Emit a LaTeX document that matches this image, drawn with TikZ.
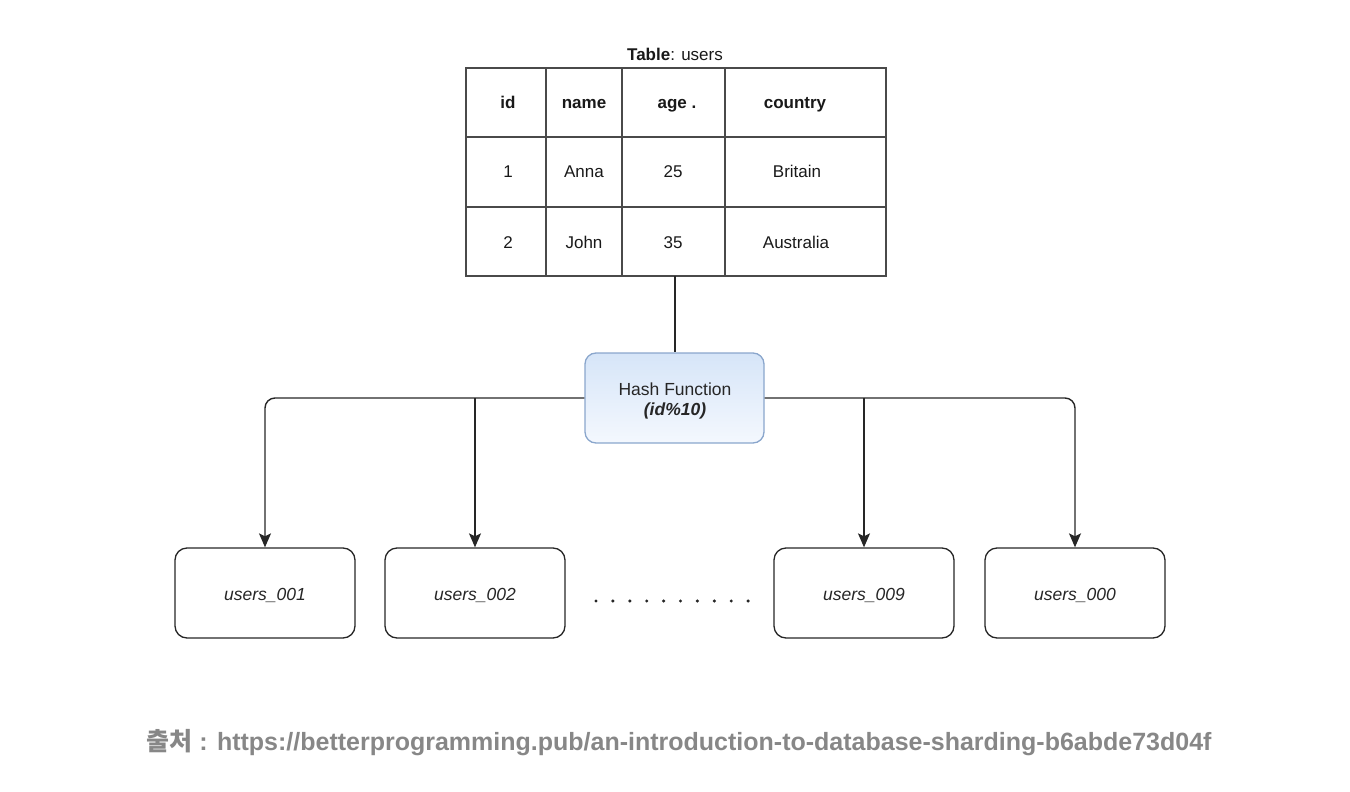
\documentclass[tikz,border=0pt]{standalone}
\usepackage{fontspec}
\setmainfont{Liberation Sans}
\newfontfamily\kr{Noto Sans CJK KR}
\usetikzlibrary{arrows.meta}
\definecolor{tline}{HTML}{4A4A4A}
\definecolor{hashtop}{HTML}{D6E5F8}
\definecolor{hashbot}{HTML}{F4F8FE}
\definecolor{hashborder}{HTML}{8AA6CC}
\definecolor{srcgray}{HTML}{878787}
\tikzset{
  cell/.style={font=\fontsize{17}{20}\selectfont, text=black!90, inner sep=0pt, anchor=base},
  hcell/.style={cell, font=\fontsize{17}{20}\selectfont\bfseries},
  shard/.style={draw=black!85, line width=1.3pt, rounded corners=12pt, minimum width=180pt, minimum height=90pt},
  shardtxt/.style={font=\fontsize{17.5}{20}\selectfont\itshape, text=black!85, inner sep=0pt, anchor=base},
  hashbox/.style={draw=hashborder, line width=1.3pt, rounded corners=11pt, minimum width=179pt, minimum height=90pt, top color=hashtop, bottom color=hashbot},
  hashtxt/.style={font=\fontsize{17.5}{20}\selectfont, text=black!85, inner sep=0pt, anchor=base},
  conn/.style={draw=black!85, line width=1.4pt},
  arr/.style={conn, -{Stealth[length=14pt, width=12pt, inset=3pt]}},
}
\begin{document}
\begin{tikzpicture}[x=1pt, y=-1pt]
\useasboundingbox (0,0) rectangle (1350,792);
% table
\node[draw=tline, line width=1.3pt, minimum width=420pt, minimum height=208pt, inner sep=0pt] (tbl) at (676,172) {};
\draw[tline, line width=1.3pt] (546,68) -- (546,276) (622,68) -- (622,276) (725,68) -- (725,276)
  (466,137) -- (886,137) (466,207) -- (886,207);
\node[cell] (title) at (675,61) {\textbf{Table}: users};
\node[hcell] (h1) at (508,108) {id};
\node[hcell] (h2) at (584,108) {name};
\node[hcell] (h3) at (677,108) {age .};
\node[hcell] (h4) at (795,108) {country};
\node[cell] (a1) at (508,177) {1};
\node[cell] (a2) at (584,177) {Anna};
\node[cell] (a3) at (673,177) {25};
\node[cell] (a4) at (797,177) {Britain};
\node[cell] (b1c) at (508,248) {2};
\node[cell] (b2c) at (584,248) {John};
\node[cell] (b3c) at (673,248) {35};
\node[cell] (b4c) at (796,248) {Australia};
% hash
\node[hashbox] (hash) at (674.5,398) {};
\node[hashtxt] (hl1) at (675,395) {Hash Function};
\node[hashtxt] (hl2) at (675,415) {\textbf{\textit{(id\%10)}}};
\coordinate (tb) at (675,276);
\draw[conn] (tb) -- (tb |- hash.north);
% shards
\node[shard] (s1) at (265,593) {};
\node[shard] (s2) at (475,593) {};
\node[shard] (s9) at (864,593) {};
\node[shard] (s0) at (1075,593) {};
\node[shardtxt] (t1) at (265,600) {users\_001};
\node[shardtxt] (t2) at (475,600) {users\_002};
\node[shardtxt] (t9) at (864,600) {users\_009};
\node[shardtxt] (t0) at (1075,600) {users\_000};
\draw[arr, rounded corners=10pt] (hash.west) -| (s1.north);
\draw[arr] (hash.west -| s2.north) -- (s2.north);
\draw[arr, rounded corners=10pt] (hash.east) -| (s0.north);
\draw[arr] (hash.east -| s9.north) -- (s9.north);
% dots
\foreach \i in {0,...,9} \fill[black!85] (596+\i*16.9,601) circle (1.7pt);
% source
\node[font=\fontsize{25}{30}\selectfont\bfseries, text=srcgray] (src) at (679,743) {{\kr\bfseries 출처} : https://betterprogramming.pub/an-introduction-to-database-sharding-b6abde73d04f};
\end{tikzpicture}
\end{document}
